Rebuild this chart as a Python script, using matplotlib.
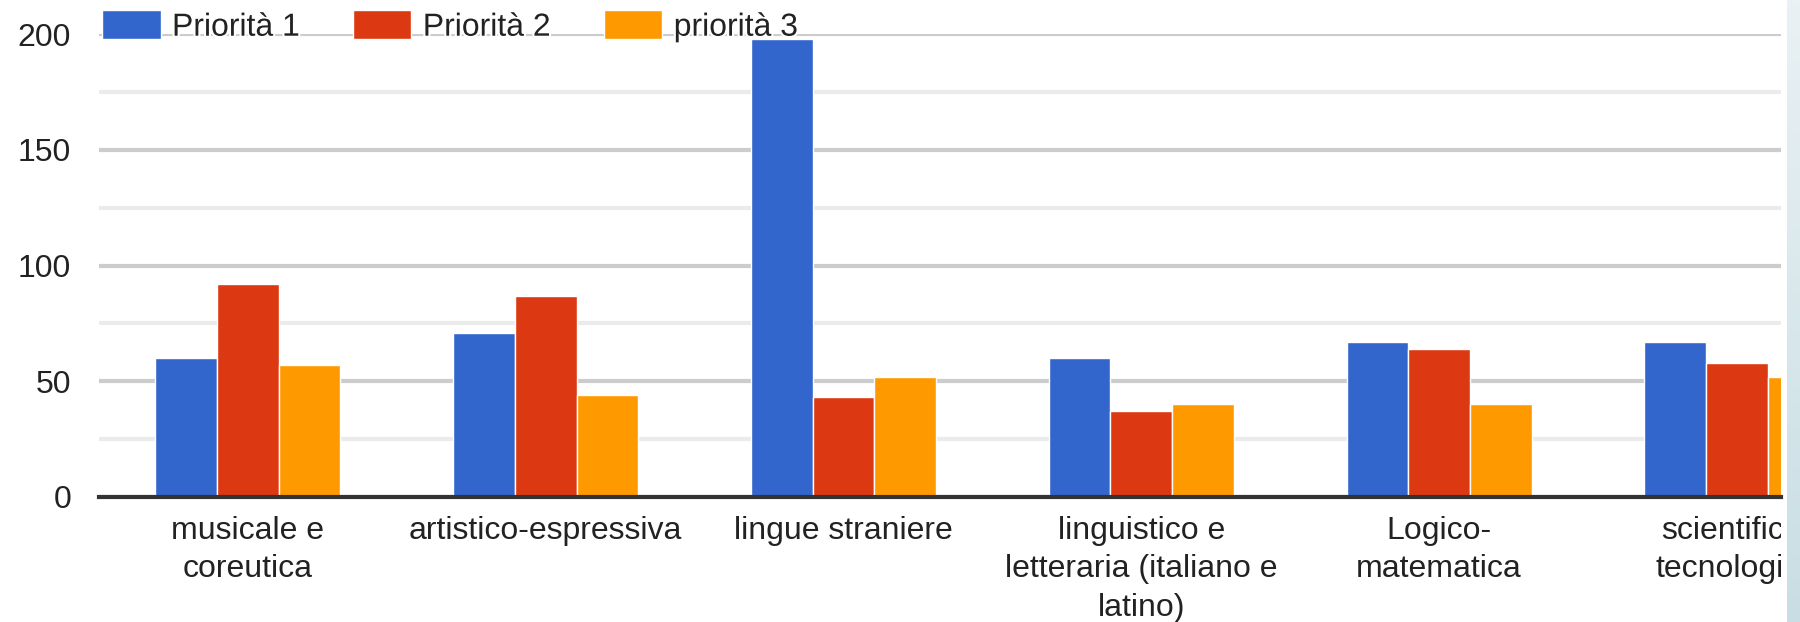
import matplotlib.pyplot as plt
import matplotlib.patheffects as pe
from matplotlib.transforms import Bbox, TransformedBbox
from matplotlib.colors import LinearSegmentedColormap
import numpy as np

categories = ["musicale e\ncoreutica", "artistico-espressiva", "lingue straniere",
              "linguistico e\nletteraria (italiano e\nlatino)", "Logico-\nmatematica",
              "scientifico-\ntecnologica"]
priorita_1 = [60, 71, 198, 60, 67, 67]
priorita_2 = [92, 87, 43, 37, 64, 58]
priorita_3 = [57, 44, 52, 40, 40, 52]
series_names = ["Priorità 1", "Priorità 2", "priorità 3"]
colors = ["#3366CC", "#DC3912", "#FF9900"]

plt.rcParams['font.family'] = ['Liberation Sans', 'DejaVu Sans']
fs = 23

fig = plt.figure(figsize=(18, 6.22), dpi=100)
ax = fig.add_axes([99 / 1800, 1 - 497 / 622, (1781 - 99) / 1800, (497 - 34) / 622])

x = np.arange(len(categories))
w = 0.207
for i, (vals, name, c) in enumerate(zip([priorita_1, priorita_2, priorita_3], series_names, colors)):
    ax.bar(x + (i - 1) * w, vals, w, color=c, edgecolor="white", linewidth=1, label=name, zorder=3)

ax.set_xlim(-0.5, 5.148)
ax.set_ylim(0, 200)
ax.set_yticks([0, 50, 100, 150, 200])
ax.set_yticks([25, 75, 125, 175], minor=True)
ax.grid(axis="y", which="major", color="#CCCCCC", linewidth=3, zorder=0)
ax.grid(axis="y", which="minor", color="#EBEBEB", linewidth=3, zorder=0)
ax.set_axisbelow(True)
for s in ["top", "right", "left"]:
    ax.spines[s].set_visible(False)
ax.spines["bottom"].set_color("#333333")
ax.spines["bottom"].set_linewidth(3)
ax.spines["bottom"].set_zorder(4)

ax.tick_params(axis="y", which="both", length=0, pad=20, labelsize=fs, labelcolor="#222222")
ax.tick_params(axis="x", length=0, pad=13.5, labelsize=fs, labelcolor="#222222")
ax.set_xticks(x)
ax.set_xticklabels(categories, linespacing=1.38, va="top")

# the screenshot is cut on the right side
clip = TransformedBbox(Bbox([[-0.2, -1.0], [1.0, 1.2]]), ax.transAxes)
for lbl in ax.get_xticklabels():
    lbl.set_clip_box(clip)
    lbl.set_clip_on(True)

leg = ax.legend(loc="center left", bbox_to_anchor=(0.002, 1.016), ncol=3, frameon=False,
                fontsize=fs, handlelength=1.82, handleheight=1.0, handletextpad=0.36,
                columnspacing=1.66, borderaxespad=0, borderpad=0)
for t in leg.get_texts():
    t.set_color("#222222")
    t.set_path_effects([pe.withStroke(linewidth=3, foreground="white")])
leg.set_zorder(5)

# light blue strip at the right edge
strip = fig.add_axes([1787 / 1800, 0, 13 / 1800, 1])
grad = np.linspace(0, 1, 100).reshape(-1, 1)
cmap = LinearSegmentedColormap.from_list("strip", ["#E9F1F4", "#C9DEE4"])
strip.imshow(grad, aspect="auto", cmap=cmap, extent=[0, 1, 1, 0])
strip.axis("off")

fig.savefig("out.png", dpi=100)
